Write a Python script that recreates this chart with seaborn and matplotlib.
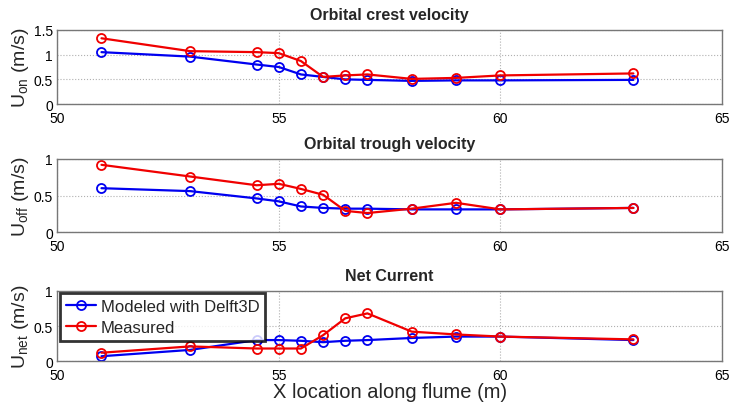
import matplotlib
matplotlib.use("Agg")
import matplotlib.pyplot as plt
import seaborn as sns

# --- Data ---
x_loc = [51, 53, 54.5, 55, 55.5, 56, 56.5, 57, 58, 59, 60, 63]

crest_model = [1.05, 0.96, 0.80, 0.75, 0.60, 0.55, 0.50, 0.49, 0.47, 0.48, 0.48, 0.49]
crest_meas = [1.33, 1.07, 1.05, 1.03, 0.87, 0.55, 0.58, 0.60, 0.51, 0.53, 0.58, 0.62]

trough_model = [0.60, 0.56, 0.46, 0.42, 0.35, 0.33, 0.32, 0.32, 0.31, 0.31, 0.31, 0.33]
trough_meas = [0.92, 0.76, 0.64, 0.66, 0.59, 0.51, 0.29, 0.26, 0.32, 0.40, 0.31, 0.33]

net_model = [0.07, 0.16, 0.30, 0.30, 0.29, 0.27, 0.29, 0.30, 0.33, 0.35, 0.35, 0.30]
net_meas = [0.12, 0.21, 0.18, 0.18, 0.18, 0.37, 0.61, 0.68, 0.42, 0.38, 0.35, 0.31]

titles = ["Orbital crest velocity", "Orbital trough velocity", "Net Current"]
ylabels = [r"U$_{\rm on}$ (m/s)", r"U$_{\rm off}$ (m/s)", r"U$_{\rm net}$ (m/s)"]
ymax = [1.5, 1.0, 1.0]
yticks = [[0, 0.5, 1, 1.5], [0, 0.5, 1], [0, 0.5, 1]]
ytick_labels = [["0", "0.5", "1", "1.5"], ["0", "0.5", "1"], ["0", "0.5", "1"]]
xticks = [50, 55, 60, 65]

# --- Style ---
sns.set_style("white")
plt.rcParams["font.family"] = ["Liberation Sans", "DejaVu Sans"]
plt.rcParams["mathtext.fontset"] = "custom"
plt.rcParams["mathtext.rm"] = "Liberation Sans"
plt.rcParams["mathtext.it"] = "Liberation Sans"

fig = plt.figure(figsize=(7.33, 4.06), dpi=100)
positions = [
    [0.078, 0.741, 0.907, 0.183],
    [0.078, 0.426, 0.907, 0.180],
    [0.078, 0.108, 0.907, 0.173],
]

series = [(crest_model, crest_meas), (trough_model, trough_meas), (net_model, net_meas)]

for i, (model, meas) in enumerate(series):
    ax = fig.add_axes(positions[i])
    sns.lineplot(x=x_loc, y=model, ax=ax, color="#0000f0", marker="o", markersize=6.5,
                 markerfacecolor="none", markeredgecolor="#0000f0", markeredgewidth=1.3,
                 linewidth=1.6, label="Modeled with Delft3D")
    sns.lineplot(x=x_loc, y=meas, ax=ax, color="#f00000", marker="o", markersize=6.5,
                 markerfacecolor="none", markeredgecolor="#f00000", markeredgewidth=1.3,
                 linewidth=1.6, label="Measured")
    ax.set_xlim(50, 65)
    ax.set_ylim(0, ymax[i])
    ax.set_xticks(xticks)
    ax.set_xticklabels([str(t) for t in xticks], fontsize=10)
    ax.set_yticks(yticks[i])
    ax.set_yticklabels(ytick_labels[i], fontsize=10)
    ax.grid(True, linestyle=":", color="#b0b0b0", linewidth=0.8)
    ax.tick_params(axis="both", direction="in", length=3, colors="black")
    ax.tick_params(axis="x", pad=5)
    ax.tick_params(axis="y", pad=3)
    for s in ax.spines.values():
        s.set_color("#777777")
        s.set_linewidth(1.0)
    ax.set_title(titles[i], fontsize=11.5, fontweight="bold", pad=8)
    ax.set_ylabel(ylabels[i], fontsize=14, labelpad=2)
    if i == 2:
        ax.set_xlabel("X location along flume (m)", fontsize=14.5, labelpad=0)
        leg = ax.legend(loc="upper left", fontsize=12, frameon=True, fancybox=False,
                        borderaxespad=0.15, handlelength=1.8, handletextpad=0.3,
                        labelspacing=0.35, borderpad=0.35)
        leg.get_frame().set_edgecolor("black")
        leg.get_frame().set_linewidth(2.0)
    else:
        ax.get_legend().remove()

fig.savefig("out.png", dpi=100)
